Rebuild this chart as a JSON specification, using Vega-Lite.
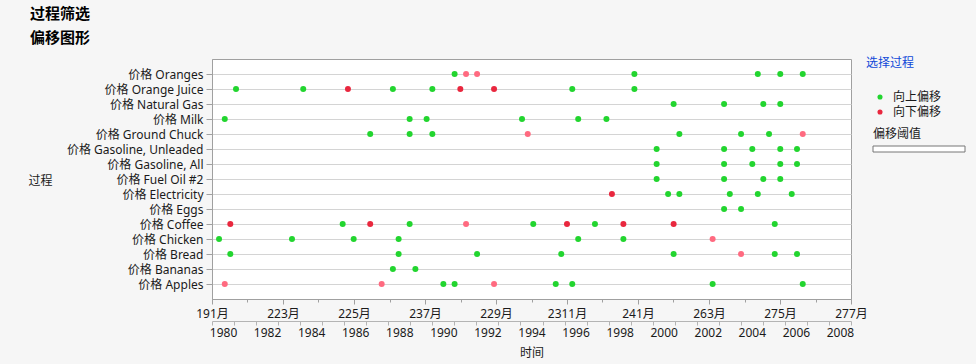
{
  "$schema": "https://vega.github.io/schema/vega-lite/v6.json",
  "width": 639,
  "height": 240,
  "autosize": "none",
  "padding": {"left": 212, "top": 59, "right": 125, "bottom": 65},
  "background": "#f6f6f6",
  "config": {
    "font": "Noto Sans, Noto Sans CJK SC",
    "view": {"fill": "white", "stroke": "#a0a0a0", "strokeWidth": 1},
    "axis": {"labelFontSize": 12, "labelColor": "#1a1a1a", "titleColor": "#1a1a1a", "titleFontWeight": "normal", "titleFontSize": 12, "domainColor": "#a0a0a0", "tickColor": "#a0a0a0"}
  },
  "title": {
    "text": "过程筛选",
    "subtitle": "偏移图形",
    "anchor": "start",
    "frame": "group",
    "dx": -182,
    "offset": 12,
    "fontSize": 15,
    "fontWeight": "bold",
    "color": "#000000",
    "subtitleFontSize": 15,
    "subtitleFontWeight": "bold",
    "subtitleColor": "#000000",
    "subtitlePadding": 9
  },
  "data": {
    "values": [
      {"过程": "价格 Oranges", "年份": 1991.01, "偏移": "向上偏移"},
      {"过程": "价格 Oranges", "年份": 1991.53, "偏移": "向下偏移(弱)"},
      {"过程": "价格 Oranges", "年份": 1992.03, "偏移": "向下偏移(弱)"},
      {"过程": "价格 Oranges", "年份": 1999.17, "偏移": "向上偏移"},
      {"过程": "价格 Oranges", "年份": 2004.77, "偏移": "向上偏移"},
      {"过程": "价格 Oranges", "年份": 2005.79, "偏移": "向上偏移"},
      {"过程": "价格 Oranges", "年份": 2006.81, "偏移": "向上偏移"},
      {"过程": "价格 Orange Juice", "年份": 1981.09, "偏移": "向上偏移"},
      {"过程": "价格 Orange Juice", "年份": 1984.14, "偏移": "向上偏移"},
      {"过程": "价格 Orange Juice", "年份": 1986.17, "偏移": "向下偏移"},
      {"过程": "价格 Orange Juice", "年份": 1988.21, "偏移": "向上偏移"},
      {"过程": "价格 Orange Juice", "年份": 1990.0, "偏移": "向上偏移"},
      {"过程": "价格 Orange Juice", "年份": 1991.27, "偏移": "向下偏移"},
      {"过程": "价格 Orange Juice", "年份": 1992.8, "偏移": "向下偏移"},
      {"过程": "价格 Orange Juice", "年份": 1996.35, "偏移": "向上偏移"},
      {"过程": "价格 Orange Juice", "年份": 1999.17, "偏移": "向上偏移"},
      {"过程": "价格 Natural Gas", "年份": 2000.95, "偏移": "向上偏移"},
      {"过程": "价格 Natural Gas", "年份": 2003.24, "偏移": "向上偏移"},
      {"过程": "价格 Natural Gas", "年份": 2005.02, "偏移": "向上偏移"},
      {"过程": "价格 Natural Gas", "年份": 2005.79, "偏移": "向上偏移"},
      {"过程": "价格 Milk", "年份": 1980.58, "偏移": "向上偏移"},
      {"过程": "价格 Milk", "年份": 1988.97, "偏移": "向上偏移"},
      {"过程": "价格 Milk", "年份": 1989.74, "偏移": "向上偏移"},
      {"过程": "价格 Milk", "年份": 1994.07, "偏移": "向上偏移"},
      {"过程": "价格 Milk", "年份": 1996.62, "偏移": "向上偏移"},
      {"过程": "价格 Milk", "年份": 1997.9, "偏移": "向上偏移"},
      {"过程": "价格 Ground Chuck", "年份": 1987.18, "偏移": "向上偏移"},
      {"过程": "价格 Ground Chuck", "年份": 1988.97, "偏移": "向上偏移"},
      {"过程": "价格 Ground Chuck", "年份": 1990.0, "偏移": "向上偏移"},
      {"过程": "价格 Ground Chuck", "年份": 1994.33, "偏移": "向下偏移(弱)"},
      {"过程": "价格 Ground Chuck", "年份": 2001.21, "偏移": "向上偏移"},
      {"过程": "价格 Ground Chuck", "年份": 2004.01, "偏移": "向上偏移"},
      {"过程": "价格 Ground Chuck", "年份": 2005.28, "偏移": "向上偏移"},
      {"过程": "价格 Ground Chuck", "年份": 2006.81, "偏移": "向下偏移(弱)"},
      {"过程": "价格 Gasoline, Unleaded", "年份": 2000.18, "偏移": "向上偏移"},
      {"过程": "价格 Gasoline, Unleaded", "年份": 2003.24, "偏移": "向上偏移"},
      {"过程": "价格 Gasoline, Unleaded", "年份": 2004.52, "偏移": "向上偏移"},
      {"过程": "价格 Gasoline, Unleaded", "年份": 2005.79, "偏移": "向上偏移"},
      {"过程": "价格 Gasoline, Unleaded", "年份": 2006.55, "偏移": "向上偏移"},
      {"过程": "价格 Gasoline, All", "年份": 2000.18, "偏移": "向上偏移"},
      {"过程": "价格 Gasoline, All", "年份": 2003.24, "偏移": "向上偏移"},
      {"过程": "价格 Gasoline, All", "年份": 2004.52, "偏移": "向上偏移"},
      {"过程": "价格 Gasoline, All", "年份": 2005.79, "偏移": "向上偏移"},
      {"过程": "价格 Gasoline, All", "年份": 2006.55, "偏移": "向上偏移"},
      {"过程": "价格 Fuel Oil #2", "年份": 2000.18, "偏移": "向上偏移"},
      {"过程": "价格 Fuel Oil #2", "年份": 2003.24, "偏移": "向上偏移"},
      {"过程": "价格 Fuel Oil #2", "年份": 2005.02, "偏移": "向上偏移"},
      {"过程": "价格 Fuel Oil #2", "年份": 2005.79, "偏移": "向上偏移"},
      {"过程": "价格 Electricity", "年份": 1998.15, "偏移": "向下偏移"},
      {"过程": "价格 Electricity", "年份": 2000.7, "偏移": "向上偏移"},
      {"过程": "价格 Electricity", "年份": 2001.21, "偏移": "向上偏移"},
      {"过程": "价格 Electricity", "年份": 2003.5, "偏移": "向上偏移"},
      {"过程": "价格 Electricity", "年份": 2004.77, "偏移": "向上偏移"},
      {"过程": "价格 Electricity", "年份": 2006.31, "偏移": "向上偏移"},
      {"过程": "价格 Eggs", "年份": 2003.24, "偏移": "向上偏移"},
      {"过程": "价格 Eggs", "年份": 2004.01, "偏移": "向上偏移"},
      {"过程": "价格 Coffee", "年份": 1980.83, "偏移": "向下偏移"},
      {"过程": "价格 Coffee", "年份": 1985.93, "偏移": "向上偏移"},
      {"过程": "价格 Coffee", "年份": 1987.18, "偏移": "向下偏移"},
      {"过程": "价格 Coffee", "年份": 1988.97, "偏移": "向上偏移"},
      {"过程": "价格 Coffee", "年份": 1991.53, "偏移": "向下偏移(弱)"},
      {"过程": "价格 Coffee", "年份": 1994.58, "偏移": "向上偏移"},
      {"过程": "价格 Coffee", "年份": 1996.11, "偏移": "向下偏移"},
      {"过程": "价格 Coffee", "年份": 1997.38, "偏移": "向上偏移"},
      {"过程": "价格 Coffee", "年份": 1998.67, "偏移": "向下偏移"},
      {"过程": "价格 Coffee", "年份": 2000.95, "偏移": "向下偏移"},
      {"过程": "价格 Coffee", "年份": 2005.54, "偏移": "向上偏移"},
      {"过程": "价格 Chicken", "年份": 1980.32, "偏移": "向上偏移"},
      {"过程": "价格 Chicken", "年份": 1983.63, "偏移": "向上偏移"},
      {"过程": "价格 Chicken", "年份": 1986.43, "偏移": "向上偏移"},
      {"过程": "价格 Chicken", "年份": 1988.47, "偏移": "向上偏移"},
      {"过程": "价格 Chicken", "年份": 1996.62, "偏移": "向上偏移"},
      {"过程": "价格 Chicken", "年份": 1998.67, "偏移": "向上偏移"},
      {"过程": "价格 Chicken", "年份": 2002.72, "偏移": "向下偏移(弱)"},
      {"过程": "价格 Bread", "年份": 1980.83, "偏移": "向上偏移"},
      {"过程": "价格 Bread", "年份": 1988.47, "偏移": "向上偏移"},
      {"过程": "价格 Bread", "年份": 1992.03, "偏移": "向上偏移"},
      {"过程": "价格 Bread", "年份": 1995.85, "偏移": "向上偏移"},
      {"过程": "价格 Bread", "年份": 2000.95, "偏移": "向上偏移"},
      {"过程": "价格 Bread", "年份": 2004.01, "偏移": "向下偏移(弱)"},
      {"过程": "价格 Bread", "年份": 2005.54, "偏移": "向上偏移"},
      {"过程": "价格 Bread", "年份": 2006.55, "偏移": "向上偏移"},
      {"过程": "价格 Bananas", "年份": 1988.21, "偏移": "向上偏移"},
      {"过程": "价格 Bananas", "年份": 1989.23, "偏移": "向上偏移"},
      {"过程": "价格 Apples", "年份": 1980.58, "偏移": "向下偏移(弱)"},
      {"过程": "价格 Apples", "年份": 1987.7, "偏移": "向下偏移(弱)"},
      {"过程": "价格 Apples", "年份": 1990.5, "偏移": "向上偏移"},
      {"过程": "价格 Apples", "年份": 1991.01, "偏移": "向上偏移"},
      {"过程": "价格 Apples", "年份": 1992.8, "偏移": "向下偏移(弱)"},
      {"过程": "价格 Apples", "年份": 1995.6, "偏移": "向上偏移"},
      {"过程": "价格 Apples", "年份": 1996.35, "偏移": "向上偏移"},
      {"过程": "价格 Apples", "年份": 2002.72, "偏移": "向上偏移"},
      {"过程": "价格 Apples", "年份": 2006.81, "偏移": "向上偏移"}
    ]
  },
  "layer": [
    {
      "mark": {"type": "circle", "size": 36, "opacity": 1, "strokeWidth": 0},
      "encoding": {
        "y": {
          "field": "过程",
          "type": "nominal",
          "sort": ["价格 Oranges", "价格 Orange Juice", "价格 Natural Gas", "价格 Milk", "价格 Ground Chuck", "价格 Gasoline, Unleaded", "价格 Gasoline, All", "价格 Fuel Oil #2", "价格 Electricity", "价格 Eggs", "价格 Coffee", "价格 Chicken", "价格 Bread", "价格 Bananas", "价格 Apples"],
          "scale": {"type": "point", "padding": 1},
          "axis": {
            "title": "过程",
            "titleAngle": 0,
            "titleAlign": "center",
            "titleBaseline": "middle",
            "titleX": -172,
            "titleY": 121,
            "grid": true,
            "gridColor": "#d4d4d4",
            "tickSize": 6,
            "labelPadding": 3
          }
        },
        "x": {
          "field": "年份",
          "type": "quantitative",
          "scale": {"domain": [1980, 2009], "nice": false, "zero": false},
          "axis": {
            "orient": "bottom",
            "values": [1980, 1983.2222, 1986.4444, 1989.6667, 1992.8889, 1996.1111, 1999.3333, 2002.5556, 2005.7778, 2009],
            "labelExpr": "['191月','223月','225月','237月','229月','2311月','241月','263月','275月','277月'][round((datum.value-1980)*9/29)]",
            "title": null,
            "grid": false,
            "tickSize": 5,
            "labelPadding": 4,
            "labelFlush": false,
            "labelOverlap": false,
            "labelBound": false
          }
        },
        "fill": {
          "field": "偏移",
          "type": "nominal",
          "scale": {"domain": ["向上偏移", "向下偏移", "向下偏移(弱)"], "range": ["#22d52f", "#e9273e", "#ff6a80"]},
          "legend": {
            "values": ["向上偏移", "向下偏移"],
            "orient": "none",
            "legendX": 654,
            "legendY": -1,
            "title": "选择过程",
            "titleColor": "#1048d8",
            "titleFontSize": 12,
            "titleFontWeight": "normal",
            "titlePadding": 21,
            "labelFontSize": 12,
            "labelColor": "#1a1a1a",
            "symbolType": "circle",
            "symbolSize": 26,
            "symbolOffset": 8,
            "labelOffset": 7,
            "rowPadding": 3
          }
        },
        "stroke": {
          "field": "年份",
          "type": "quantitative",
          "scale": {"range": ["#ffffff", "#ffffff"]},
          "legend": {
            "orient": "none",
            "legendX": 661,
            "legendY": 70,
            "direction": "horizontal",
            "title": "偏移阈值",
            "titleFontSize": 12,
            "titleFontWeight": "normal",
            "titleColor": "#1a1a1a",
            "titlePadding": 5,
            "gradientLength": 92,
            "gradientThickness": 6,
            "gradientStrokeColor": "#777777",
            "gradientStrokeWidth": 1,
            "labelExpr": "''",
            "tickCount": 2
          }
        }
      }
    },
    {
      "mark": {"type": "circle", "opacity": 0},
      "encoding": {
        "x": {
          "field": "年份",
          "type": "quantitative",
          "axis": {
            "orient": "bottom",
            "values": [1981.6111, 1984.8333, 1988.0556, 1991.2778, 1994.5, 1997.7222, 2000.9444, 2004.1667, 2007.3889],
            "labels": false,
            "domain": false,
            "grid": false,
            "title": null,
            "tickSize": 3
          }
        }
      }
    },
    {
      "mark": {"type": "circle", "opacity": 0},
      "encoding": {
        "x": {
          "field": "年份",
          "type": "quantitative",
          "axis": {
            "orient": "bottom",
            "offset": 22,
            "values": [1980, 1981, 1982, 1983, 1984, 1985, 1986, 1987, 1988, 1989, 1990, 1991, 1992, 1993, 1994, 1995, 1996, 1997, 1998, 1999, 2000, 2001, 2002, 2003, 2004, 2005, 2006, 2007, 2008, 2009],
            "labels": false,
            "domain": true,
            "domainColor": "#b4b4b4",
            "tickColor": "#b4b4b4",
            "grid": false,
            "title": null,
            "tickSize": 4
          }
        }
      }
    },
    {
      "mark": {"type": "circle", "opacity": 0},
      "encoding": {
        "x": {
          "field": "年份",
          "type": "quantitative",
          "axis": {
            "orient": "bottom",
            "offset": 26,
            "values": [1980.5, 1982.5, 1984.5, 1986.5, 1988.5, 1990.5, 1992.5, 1994.5, 1996.5, 1998.5, 2000.5, 2002.5, 2004.5, 2006.5, 2008.5],
            "labelExpr": "toString(floor(datum.value))",
            "ticks": false,
            "domain": false,
            "grid": false,
            "labelPadding": 2,
            "labelFlush": false,
            "labelOverlap": false,
            "labelBound": false,
            "title": "时间",
            "titlePadding": 9
          }
        }
      }
    }
  ],
  "resolve": {"axis": {"x": "independent"}}
}
